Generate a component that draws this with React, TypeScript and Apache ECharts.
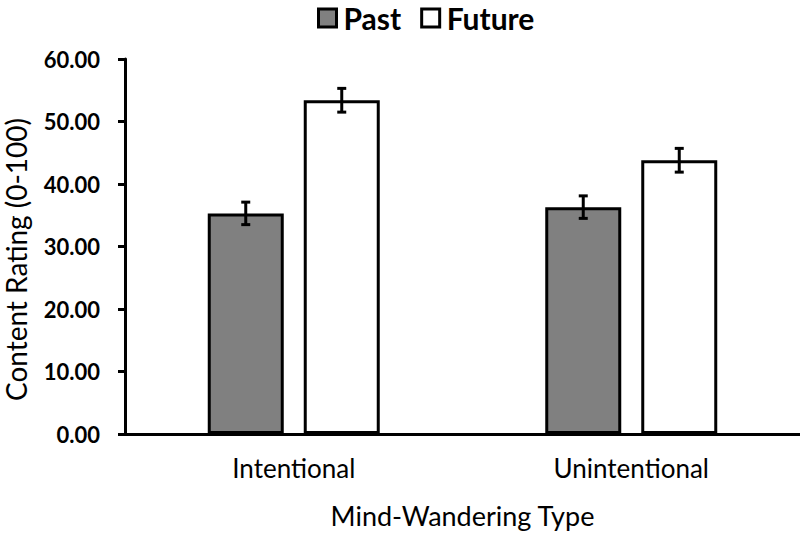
import React, { useEffect, useRef } from "react";
import * as echarts from "echarts";

const categories = ["Intentional", "Unintentional"];
const pastValues = [35.3, 36.3];
const futureValues = [53.4, 43.8];
const pastErrors = [1.8, 1.8];
const futureErrors = [1.9, 1.9];
const seriesNames = ["Past", "Future"];

const FONT = "Lato, 'Open Sans', sans-serif";
const BAR_W = 76;
const GAP = 20;

export default function App() {
  const ref = useRef<HTMLDivElement>(null);
  useEffect(() => {
    if (!ref.current) return;
    const chart = echarts.init(ref.current, null, { renderer: "svg" });
    const barGap = `${(GAP / BAR_W) * 100}%`;
    const errItem = (errs: number[], vals: number[], seriesIndexOffset: number) => ({
      type: "custom",
      z: 10,
      silent: true,
      data: categories.map((_, i) => [i, vals[i], errs[i]]),
      renderItem: (params: any, api: any) => {
        const ci = api.value(0);
        const v = api.value(1);
        const e = api.value(2);
        const total = BAR_W * 2 + GAP;
        const center = api.coord([ci, 0])[0];
        const x = center - total / 2 + BAR_W / 2 + seriesIndexOffset * (BAR_W + GAP);
        const top = api.coord([ci, v + e])[1];
        const bot = api.coord([ci, v - e])[1];
        const cap = 4.5;
        const st = { stroke: "#000", lineWidth: 3 };
        return {
          type: "group",
          children: [
            { type: "line", shape: { x1: x, y1: top, x2: x, y2: bot }, style: st },
            { type: "line", shape: { x1: x - cap, y1: top, x2: x + cap, y2: top }, style: st },
            { type: "line", shape: { x1: x - cap, y1: bot, x2: x + cap, y2: bot }, style: st },
          ],
        };
      },
    });
    chart.setOption({
      animation: false,
      backgroundColor: "#fff",
      textStyle: { fontFamily: FONT },
      grid: { left: 125, right: 0, top: 59, bottom: 99, outerBoundsMode: "none", containLabel: false },
      legend: {
        data: seriesNames,
        top: -2,
        left: 312,
        icon: "rect",
        itemWidth: 18,
        itemHeight: 18,
        itemGap: 19,
        itemStyle: { borderWidth: 3, borderColor: "#000" },
        textStyle: { fontFamily: FONT, fontWeight: "bold", fontSize: 30, color: "#000", padding: [0, 0, 0, 2] },
      },
      xAxis: {
        type: "category",
        data: categories,
        name: "Mind-Wandering Type",
        nameLocation: "middle",
        nameGap: 68,
        nameTextStyle: { fontFamily: FONT, fontSize: 27, color: "#000" },
        axisLine: { lineStyle: { color: "#000", width: 3 } },
        axisTick: { show: false },
        axisLabel: { fontFamily: FONT, fontSize: 26, color: "#000", margin: 21 },
      },
      yAxis: {
        type: "value",
        min: 0,
        max: 60,
        interval: 10,
        name: "Content Rating (0-100)",
        nameLocation: "middle",
        nameGap: 95,
        nameTextStyle: { fontFamily: FONT, fontSize: 28, color: "#000", padding: [0, 26, 0, 0] },
        axisLine: { show: true, lineStyle: { color: "#000", width: 3 } },
        axisTick: { show: true, length: 7, lineStyle: { color: "#000", width: 3 } },
        splitLine: { show: false },
        axisLabel: {
          fontFamily: FONT,
          fontWeight: "bold",
          fontSize: 22,
          color: "#000",
          margin: 25,
          formatter: (v: number) => v.toFixed(2),
        },
      },
      series: [
        {
          name: "Past",
          type: "bar",
          data: pastValues,
          barWidth: BAR_W,
          barGap,
          itemStyle: { color: "#808080", borderColor: "#000", borderWidth: 3 },
        },
        {
          name: "Future",
          type: "bar",
          data: futureValues,
          barWidth: BAR_W,
          barGap,
          itemStyle: { color: "#ffffff", borderColor: "#000", borderWidth: 3 },
        },
        errItem(pastErrors, pastValues, 0),
        errItem(futureErrors, futureValues, 1),
      ],
    });
    return () => chart.dispose();
  }, []);
  return <div ref={ref} style={{ width: 800, height: 533, position: "absolute", left: 0, top: 0 }} />;
}
